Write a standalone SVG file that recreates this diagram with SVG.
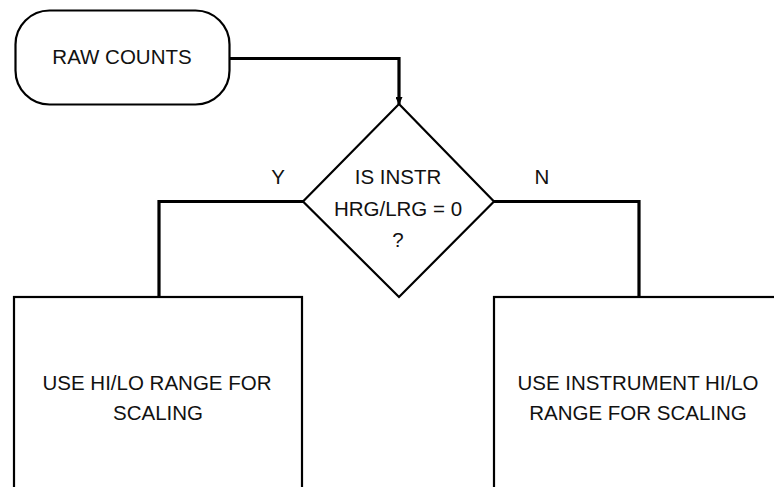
<svg xmlns="http://www.w3.org/2000/svg" width="774" height="487" viewBox="0 0 774 487">
  <style>
    .shape { fill: #ffffff; stroke: #000000; stroke-width: 2.2; }
    .wire { fill: none; stroke: #000000; stroke-width: 3.2; stroke-linejoin: miter; }
    .label { font-family: "Liberation Sans", Arial, sans-serif; font-size: 20.5px; fill: #111111; text-anchor: middle; }
  </style>
  <defs>
    <marker id="arrow" markerWidth="8" markerHeight="7" refX="7" refY="3.5" orient="auto" markerUnits="userSpaceOnUse">
      <path d="M0,0 L8,3.5 L0,7 Z" fill="#000000"/>
    </marker>
  </defs>
  <rect width="774" height="487" fill="#ffffff"/>

  <!-- connectors -->
  <g id="connectors">
    <path class="wire" d="M230,58.5 H399 V104" marker-end="url(#arrow)"/>
    <path class="wire" d="M303,201.5 H159 V297"/>
    <path class="wire" d="M494,201.5 H639 V297"/>
  </g>

  <!-- start terminal -->
  <g id="raw-counts">
    <rect class="shape" x="15.5" y="10.5" width="214" height="94" rx="34" ry="34" stroke-width="2.6"/>
    <text class="label" x="122" y="64">RAW COUNTS</text>
  </g>

  <!-- decision -->
  <g id="decision">
    <polygon class="shape" points="399,104 494,201.5 399,297 303,201.5"/>
    <text class="label" x="398" y="184">IS INSTR</text>
    <text class="label" x="398" y="215.5">HRG/LRG = 0</text>
    <text class="label" x="398" y="247">?</text>
  </g>

  <!-- branch labels -->
  <g id="branch-labels">
    <text class="label" x="278" y="184">Y</text>
    <text class="label" x="542" y="184">N</text>
  </g>

  <!-- yes branch process -->
  <g id="use-hilo">
    <rect class="shape" x="14" y="297" width="288" height="200"/>
    <text class="label" x="157" y="390">USE HI/LO RANGE FOR</text>
    <text class="label" x="158" y="420">SCALING</text>
  </g>

  <!-- no branch process -->
  <g id="use-instrument-hilo">
    <rect class="shape" x="494" y="297" width="290" height="200"/>
    <text class="label" x="638" y="390">USE INSTRUMENT HI/LO</text>
    <text class="label" x="638" y="420">RANGE FOR SCALING</text>
  </g>
</svg>
